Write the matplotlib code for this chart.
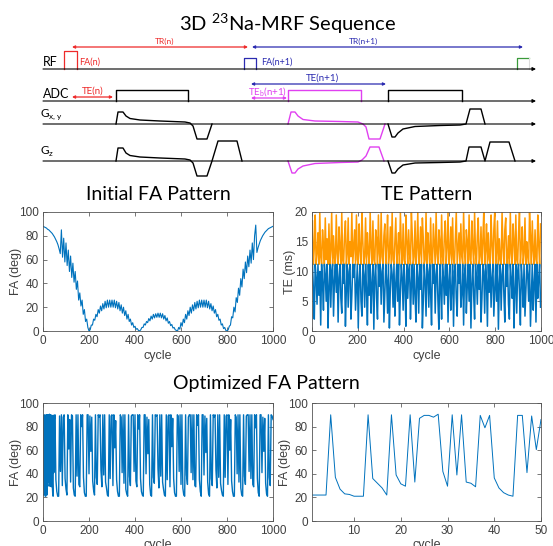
import numpy as np
import matplotlib
matplotlib.use("Agg")
import matplotlib.pyplot as plt

plt.rcParams['font.family'] = ['Liberation Sans', 'DejaVu Sans']
plt.rcParams['mathtext.fontset'] = 'custom'
plt.rcParams['mathtext.rm'] = 'Lato'

W, H = 553, 546
BLUE = '#0072BD'
ORANGE = '#FF9900'
RED = '#EE2A2A'
NAVY = '#2B2BB0'
MAGENTA = '#E040F0'
GREEN = '#3A9A3A'

# ---- sequence diagram waveforms (x, y in figure pixels, y down) ----
rf_y, adc_y, gxy_y, gz_y = 69, 101, 124, 161
line_x0, line_x1 = 43, 536

rf_red_x = [64, 64, 77, 77]
rf_red_y = [69, 51, 51, 69]
rf_blue_x = [244, 244, 256, 256]
rf_blue_y = [69, 58, 58, 69]

adc1_x = [116, 116, 188, 188]
adc_mag_x = [288, 288, 361, 361]
adc2_x = [388, 388, 462, 462]
adc_box_y = [101, 90, 90, 101]

gxy1_x = [116, 118, 123, 126, 130, 140, 160, 185, 190, 193, 197, 207, 212]
gxy1_y = [124, 112, 112, 116, 118.5, 120, 121, 122, 123, 126, 139, 139, 124]
gz1_x = [116, 118, 123, 126, 130, 140, 160, 185, 190, 193, 197, 207, 212, 218, 237, 242]
gz1_y = [161, 148, 148, 153, 155.5, 157, 158, 159, 160, 163, 176, 176, 161, 141, 141, 161]

gxy_mag_x = [288, 291, 295, 298, 303, 315, 340, 358, 363, 366, 369, 380, 385]
gxy_mag_y = [124, 112, 112, 116, 119.5, 121, 121.5, 122, 124, 127, 139, 139, 124]
gz_mag_x = [288, 292, 295, 298, 303, 315, 340, 358, 362, 366, 370, 379, 384]
gz_mag_y = [161, 173, 173, 169, 166, 163.5, 162.5, 162, 160, 156, 147, 147, 161]

gxy2_x = [388, 392, 395, 398, 403, 415, 440, 460, 466, 470, 481, 485]
gxy2_y = [124, 137, 137, 133, 129, 126.5, 125.5, 125, 124, 109, 109, 124]
gz2_x = [388, 392, 395, 398, 403, 415, 440, 460, 466, 469, 481, 485, 490, 509, 515]
gz2_y = [161, 173, 173, 169, 165, 163, 162.5, 162, 161, 147, 147, 161, 142, 142, 161]

# ---- Initial FA pattern, every 5 cycles ----
init_cycle = np.arange(0, 1001, 5)
init_fa = [
    88, 87.5, 87, 86.5, 85.5, 85, 84, 83, 82, 80.5,
    79, 77, 75, 72.5, 69, 65, 85, 62, 78, 58,
    74, 55, 68, 50, 63, 45, 57, 41, 50, 35,
    42, 26, 32, 21, 26, 14, 18, 8, 10, 3,
    0, 1, 5, 5, 10, 9, 14, 12, 18, 15,
    21, 17, 23, 18.5, 25, 19.5, 26, 20, 26, 20,
    26, 20, 26, 19.5, 25, 18.5, 24, 17, 22, 15,
    20, 13, 17, 10, 14, 8, 10, 5, 7, 3,
    4, 1.5, 2, 0.5, 0, 1, 3, 3, 6, 5,
    8, 7, 10.5, 8.5, 12.5, 10, 14, 11, 14.5, 11.5,
    15, 11.5, 15, 11, 14.5, 10, 13, 8.5, 11, 6.5,
    8, 4.5, 5.5, 2.5, 3, 1, 0.5, 0, 3, 1.5,
    7, 4, 10, 7, 14, 10, 17, 13, 20, 15,
    22, 17, 24, 18.5, 25, 19.5, 26, 20, 26, 20,
    26, 20, 26, 19.5, 25, 18.5, 23, 17, 21, 15,
    18, 12, 14, 9, 10, 5, 6, 2, 3, 0.5,
    0, 1, 4, 5, 12, 11, 20, 16, 28, 24,
    36, 30, 44, 37, 52, 44, 58, 49, 63, 54,
    68, 57, 74, 60, 80, 89, 66, 70, 73, 76,
    78, 80, 81.5, 83, 84, 85, 86, 86.5, 87, 87.5,
    88,
]

# ---- TE pattern, every 4 cycles ----
te_cycle = np.arange(2, 1000, 4)
te_orange = [
    18.5, 11.2, 14, 19.5, 11.2, 13, 16.5, 11.2, 20, 12.5, 11.2, 17, 14.5, 11.2, 19, 12, 15.5, 11.2, 18, 11.2, 13.5, 20, 11.2, 16, 12.5,
    11.2, 19.5, 13, 11.2, 17.5, 14, 11.2, 20, 12, 11.2, 16, 18.5, 11.2, 13, 19, 11.2, 15, 12.5, 20, 11.2, 14, 17, 11.2, 19.5, 12,
    11.2, 18, 13.5, 11.2, 20, 15, 11.2, 12.5, 19, 11.2, 16.5, 13, 11.2, 20, 14, 11.2, 18.5, 12, 11.2, 17, 15.5, 11.2, 19.5, 13, 11.2,
    20, 12.5, 11.2, 16, 18, 11.2, 14.5, 19.5, 11.2, 13, 17.5, 11.2, 20, 12, 11.2, 15, 19, 11.2, 13.5, 16.5, 11.2, 20, 14, 11.2, 18,
    12, 11.2, 19.5, 15, 11.2, 17, 13, 11.2, 20, 16, 11.2, 12.5, 18.5, 11.2, 14, 20, 11.2, 13, 17.5, 11.2, 19, 15.5, 11.2, 12, 20,
    11.2, 16.5, 13.5, 11.2, 19, 12, 11.2, 18, 14.5, 11.2, 20, 13, 11.2, 17, 15, 11.2, 19.5, 12.5, 11.2, 16, 18.5, 11.2, 14, 20, 11.2,
    13, 17.5, 11.2, 19, 12, 11.2, 15.5, 20, 11.2, 14, 16.5, 11.2, 18, 12.5, 11.2, 20, 13.5, 11.2, 17, 15, 11.2, 19.5, 12, 11.2, 18.5,
    14, 11.2, 20, 13, 11.2, 16, 19, 11.2, 12.5, 17.5, 11.2, 15, 20, 11.2, 13.5, 18, 11.2, 16.5, 12, 11.2, 19.5, 14.5, 11.2, 17, 20,
    11.2, 13, 18.5, 11.2, 15.5, 12, 11.2, 20, 14, 11.2, 17, 19, 11.2, 12.5, 16, 11.2, 20, 13, 11.2, 18, 15, 11.2, 19.5, 12, 11.2,
    16.5, 20, 11.2, 14, 17.5, 11.2, 13, 19, 11.2, 15, 12.5, 11.2, 20, 16, 11.2, 18.5, 13.5, 11.2, 17, 12, 11.2, 19.5, 14.5, 11.2, 18,
]
te_blue = [
    11.2, 7, 2, 11.2, 9, 4.5, 11.2, 6, 10, 1, 11.2, 8, 3.5, 11.2, 9.5, 5, 11.2, 0.5, 7.5, 11.2, 4, 10, 11.2, 2.5, 8.5,
    11.2, 6.5, 11.2, 1.5, 9, 11.2, 5.5, 3, 11.2, 8, 11.2, 0.8, 7, 11.2, 4, 10, 11.2, 2, 6, 11.2, 9, 11.2, 3.5, 7.5, 11.2,
    0.5, 8.5, 11.2, 5, 2.5, 11.2, 9.5, 4, 11.2, 7, 1, 11.2, 6, 11.2, 3, 8, 11.2, 0.3, 9, 11.2, 5.5, 2, 11.2, 7.5, 11.2,
    4.5, 10, 11.2, 1.5, 6.5, 11.2, 8.5, 3, 11.2, 0.5, 7, 11.2, 9.5, 4, 11.2, 2.5, 8, 11.2, 5, 11.2, 1, 6.5, 11.2, 9, 3.5,
    11.2, 7.5, 0.8, 11.2, 5.5, 10, 11.2, 2, 8, 11.2, 4.5, 11.2, 6, 1.5, 11.2, 9, 3, 11.2, 7, 11.2, 0.5, 5, 11.2, 8.5, 2.5,
    11.2, 10, 4, 11.2, 6.5, 1, 11.2, 8, 11.2, 3, 9.5, 11.2, 5, 0.3, 11.2, 7.5, 2, 11.2, 9, 4.5, 11.2, 6, 11.2, 1.5, 8.5,
    11.2, 3.5, 7, 11.2, 0.8, 10, 11.2, 5.5, 2.5, 11.2, 8, 11.2, 4, 6.5, 11.2, 1, 9.5, 11.2, 3, 7.5, 11.2, 5, 11.2, 0.5, 8,
    11.2, 6, 2, 11.2, 9, 4.5, 11.2, 7, 11.2, 1.5, 5.5, 11.2, 10, 3, 11.2, 8.5, 0.8, 11.2, 6.5, 11.2, 4, 9, 11.2, 2.5, 7,
    11.2, 5, 11.2, 0.3, 8, 11.2, 3.5, 9.5, 11.2, 6, 1.5, 11.2, 7.5, 11.2, 4.5, 2, 11.2, 9, 5.5, 11.2, 0.5, 7, 11.2, 3, 10,
    11.2, 6.5, 1, 11.2, 8.5, 4, 11.2, 2.5, 7, 11.2, 9.5, 5, 11.2, 0.8, 6, 11.2, 3.5, 8, 11.2, 1.5, 11.2, 5.5, 9, 11.2, 4,
]

# ---- Optimized FA pattern: cycles 1-50 one by one, the rest every 4 cycles ----
opt_head_cycle = np.arange(1, 51)
opt_head_fa = [
    22, 22, 22, 22, 90, 37, 27, 23, 22.5, 21,
    21, 21, 90, 36, 32, 28, 22, 90, 39, 31.5,
    29.5, 90, 33, 87, 89.5, 89.5, 88, 90.5, 42, 29.5,
    90, 39, 90, 33, 32, 29, 89.5, 79, 89.5, 36.5,
    28, 24, 22, 21, 89.5, 89.5, 41, 89, 60.5, 86,
]
opt_tail_cycle = np.arange(52, 1001, 4)
opt_tail_fa = [
    90, 35, 25, 21, 21, 89, 42, 90, 30, 88, 90, 36, 27, 22, 90, 61, 86,
    33, 90, 89, 28, 22, 21, 90, 38, 90, 31, 29, 90, 80, 90, 37, 24, 21,
    21, 90, 90, 40, 89, 59, 88, 34, 26, 22, 90, 37, 31, 90, 88, 90, 43,
    29, 90, 39, 90, 33, 28, 22, 21, 90, 36, 89, 90, 30, 90, 62, 85, 35,
    25, 21, 21, 90, 88, 41, 90, 32, 90, 27, 23, 21, 90, 38, 30, 89, 90,
    90, 42, 90, 34, 29, 90, 78, 90, 36, 25, 22, 21, 90, 90, 40, 88, 57,
    86, 31, 22, 21, 90, 37, 32, 90, 89, 90, 44, 28, 90, 38, 90, 33, 27,
    22, 21, 90, 35, 89, 90, 29, 90, 63, 87, 36, 24, 21, 21, 90, 89, 42,
    90, 31, 90, 28, 22, 21, 90, 39, 31, 88, 90, 90, 41, 90, 35, 90, 30,
    29, 90, 81, 90, 35, 25, 21, 90, 90, 39, 89, 58, 87, 33, 23, 21, 90,
    36, 30, 90, 88, 90, 43, 28, 90, 37, 90, 32, 26, 22, 21, 90, 37, 89,
    90, 31, 90, 60, 86, 34, 25, 21, 21, 90, 88, 40, 90, 33, 90, 28, 22,
    21, 90, 38, 31, 89, 90, 90, 42, 90, 36, 90, 31, 29, 90, 79, 90, 36,
    24, 21, 90, 90, 41, 88, 59, 87, 32, 23, 21, 90, 37, 30, 90, 89, 86,
]

fig = plt.figure(figsize=(W / 100, H / 100), dpi=100)


def px_axes(l, t, r, b):
    return fig.add_axes([l / W, 1 - b / H, (r - l) / W, (b - t) / H])


def matlab_style(ax):
    ax.tick_params(direction='in', length=3, width=0.5, top=True, right=True,
                   labelsize=8.5, colors='#404040', pad=3)
    for s in ax.spines.values():
        s.set_linewidth(0.6)
        s.set_color('#555555')


# overlay canvas in pixel units for the diagram and headings
cv = fig.add_axes([0, 0, 1, 1], zorder=5)
cv.set_xlim(0, W)
cv.set_ylim(H, 0)
cv.axis('off')

tfont = dict(family=['Lato', 'DejaVu Sans'])
cv.text(288, 24, r'3D $\mathregular{^{23}}$Na-MRF Sequence', ha='center', va='center', fontsize=14.5, **tfont)
cv.text(158, 195, 'Initial FA Pattern', ha='center', va='center', fontsize=14, **tfont)
cv.text(427, 195, 'TE Pattern', ha='center', va='center', fontsize=14, **tfont)
cv.text(266, 384, 'Optimized FA Pattern', ha='center', va='center', fontsize=14, **tfont)

# baselines with arrow heads
for yb in (rf_y, adc_y, gxy_y, gz_y):
    cv.annotate('', xy=(line_x1, yb), xytext=(line_x0, yb),
                arrowprops=dict(arrowstyle='-|>', color='k', lw=0.8, mutation_scale=5,
                                shrinkA=0, shrinkB=0))

cv.text(43, rf_y - 0.5, 'RF', ha='left', va='bottom', fontsize=9, **tfont)
cv.text(43, adc_y - 0.5, 'ADC', ha='left', va='bottom', fontsize=9, **tfont)
cv.text(40, gxy_y - 2, r'G$_{\mathregular{x,y}}$', ha='left', va='bottom', fontsize=8.5, **tfont)
cv.text(40, gz_y - 2, r'G$_{\mathregular{z}}$', ha='left', va='bottom', fontsize=8.5, **tfont)


def span(x0, x1, y, c):
    cv.annotate('', xy=(x1, y), xytext=(x0, y),
                arrowprops=dict(arrowstyle='<|-|>', color=c, lw=0.9, mutation_scale=4,
                                shrinkA=0, shrinkB=0))


span(72, 248, 47, RED)
cv.text(165, 41, 'TR(n)', ha='center', va='center', fontsize=6, color=RED, **tfont)
span(252, 523, 47, NAVY)
cv.text(363, 41, 'TR(n+1)', ha='center', va='center', fontsize=6, color=NAVY, **tfont)

cv.plot(rf_red_x, rf_red_y, color=RED, lw=0.9)
cv.text(79, 62, 'FA(n)', ha='left', va='center', fontsize=6.5, color=RED, **tfont)
cv.plot(rf_blue_x, rf_blue_y, color=NAVY, lw=0.9)
cv.text(261, 62, 'FA(n+1)', ha='left', va='center', fontsize=6.5, color=NAVY, **tfont)
cv.plot([517, 517, 529], [rf_y, 58, 58], color=GREEN, lw=0.9)
cv.plot([529, 529], [58, rf_y], color='#dddddd', lw=0.8)

span(72, 113, 97, RED)
cv.text(93, 91, 'TE(n)', ha='center', va='center', fontsize=7, color=RED, **tfont)
span(251, 386, 84, NAVY)
cv.text(323, 78, 'TE(n+1)', ha='center', va='center', fontsize=7, color=NAVY, **tfont)
span(251, 287, 98, MAGENTA)
cv.text(268, 92, r'TE$_{\mathregular{b}}$(n+1)', ha='center', va='center', fontsize=7,
        color=MAGENTA, **tfont)

cv.plot(adc1_x, adc_box_y, color='k', lw=1.0)
cv.plot(adc_mag_x, adc_box_y, color=MAGENTA, lw=1.0)
cv.plot(adc2_x, adc_box_y, color='k', lw=1.0)

cv.plot(gxy1_x, gxy1_y, color='k', lw=1.0)
cv.plot(gz1_x, gz1_y, color='k', lw=1.0)
cv.plot(gxy_mag_x, gxy_mag_y, color=MAGENTA, lw=1.0)
cv.plot(gz_mag_x, gz_mag_y, color=MAGENTA, lw=1.0)
cv.plot(gxy2_x, gxy2_y, color='k', lw=1.0)
cv.plot(gz2_x, gz2_y, color='k', lw=1.0)

# ---- Initial FA ----
ax1 = px_axes(43, 212, 273, 331)
ax1.plot(init_cycle, init_fa, color=BLUE, lw=0.8)
ax1.set_xlim(0, 1000)
ax1.set_ylim(0, 100)
ax1.set_xticks([0, 200, 400, 600, 800, 1000])
ax1.set_yticks([0, 20, 40, 60, 80, 100])
ax1.set_xlabel('cycle', fontsize=9, color='#404040', labelpad=2)
ax1.set_ylabel('FA (deg)', fontsize=9, color='#404040', labelpad=-2)
matlab_style(ax1)

# ---- TE ----
ax2 = px_axes(312, 212, 541, 331)
ax2.plot(te_cycle, te_orange, color=ORANGE, lw=1.1)
ax2.plot(te_cycle, te_blue, color=BLUE, lw=1.1)
ax2.set_xlim(0, 1000)
ax2.set_ylim(0, 20)
ax2.set_xticks([0, 200, 400, 600, 800, 1000])
ax2.set_yticks([0, 5, 10, 15, 20])
ax2.set_xlabel('cycle', fontsize=9, color='#404040', labelpad=2)
ax2.set_ylabel('TE (ms)', fontsize=9, color='#404040', labelpad=-1)
matlab_style(ax2)

# ---- Optimized FA, full ----
ax3 = px_axes(43, 403, 273, 521)
ax3.plot(np.concatenate([opt_head_cycle, opt_tail_cycle]), opt_head_fa + opt_tail_fa,
         color=BLUE, lw=1.0)
ax3.set_xlim(0, 1000)
ax3.set_ylim(0, 100)
ax3.set_xticks([0, 200, 400, 600, 800, 1000])
ax3.set_yticks([0, 20, 40, 60, 80, 100])
ax3.set_xlabel('cycle', fontsize=9, color='#404040', labelpad=1)
ax3.set_ylabel('FA (deg)', fontsize=9, color='#404040', labelpad=-2)
matlab_style(ax3)

# ---- Optimized FA, first 50 cycles ----
ax4 = px_axes(312, 403, 541, 521)
ax4.plot(opt_head_cycle, opt_head_fa, color=BLUE, lw=0.7)
ax4.set_xlim(1, 50)
ax4.set_ylim(0, 100)
ax4.set_xticks([10, 20, 30, 40, 50])
ax4.set_yticks([0, 20, 40, 60, 80, 100])
ax4.set_xlabel('cycle', fontsize=9, color='#404040', labelpad=1)
ax4.set_ylabel('FA (deg)', fontsize=9, color='#404040', labelpad=-2)
matlab_style(ax4)

fig.savefig('out.png', dpi=100)
